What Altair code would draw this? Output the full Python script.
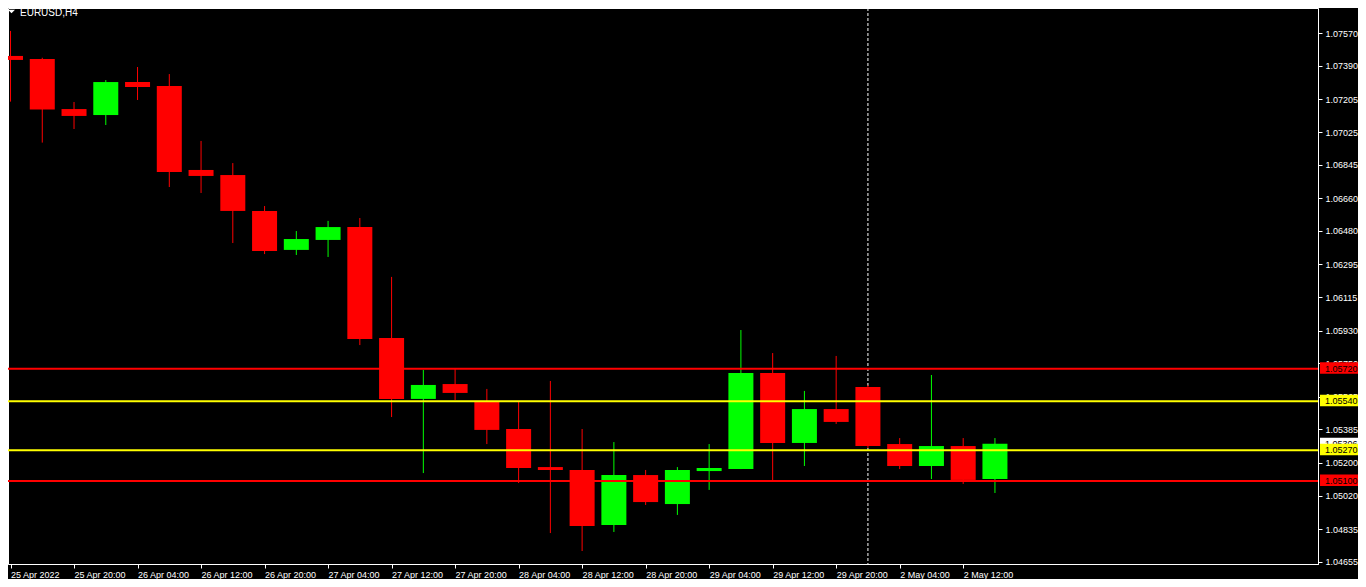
import altair as alt
import pandas as pd

# ---- data (EURUSD, H4) ----
bar_index = list(range(32))
opens = [1.07445, 1.07428, 1.07152, 1.07119, 1.07301, 1.07279, 1.06816, 1.06788,
         1.06590, 1.06375, 1.06430, 1.06501, 1.05889, 1.05553, 1.05635, 1.05542,
         1.05387, 1.05177, 1.05161, 1.04857, 1.05133, 1.04973, 1.05155, 1.05166,
         1.05696, 1.05310, 1.05497, 1.05619, 1.05304, 1.05183, 1.05293, 1.05111]
highs = [1.07583, 1.07435, 1.07191, 1.07312, 1.07384, 1.07345, 1.06976, 1.06854,
         1.06617, 1.06479, 1.06535, 1.06551, 1.06226, 1.05713, 1.05718, 1.05608,
         1.05536, 1.05652, 1.05387, 1.05315, 1.05161, 1.05177, 1.05304, 1.05933,
         1.05806, 1.05597, 1.05790, 1.05630, 1.05337, 1.05685, 1.05337, 1.05337]
lows = [1.07193, 1.06967, 1.07042, 1.07064, 1.07202, 1.06722, 1.06689, 1.06413,
        1.06352, 1.06347, 1.06336, 1.05850, 1.05453, 1.05144, 1.05547, 1.05304,
        1.05089, 1.04813, 1.04714, 1.04819, 1.04968, 1.04913, 1.05051, 1.05166,
        1.05095, 1.05183, 1.05415, 1.05282, 1.05166, 1.05111, 1.05084, 1.05034]
closes = [1.07423, 1.07149, 1.07114, 1.07301, 1.07274, 1.06805, 1.06783, 1.06590,
          1.06369, 1.06435, 1.06501, 1.05884, 1.05553, 1.05630, 1.05586, 1.05382,
          1.05172, 1.05161, 1.04852, 1.05133, 1.04984, 1.05161, 1.05172, 1.05696,
          1.05310, 1.05497, 1.05426, 1.05293, 1.05183, 1.05293, 1.05106, 1.05306]

level_prices = [1.05720, 1.05540, 1.05270, 1.05100]
level_colors = ["#ff0000", "#ffff00", "#ffff00", "#ff0000"]
level_texts = ["1.05720", "1.05540", "1.05270", "1.05100"]
bid_price = [1.05306]
bid_text = ["1.05306"]

x_tick_index = [0, 2, 4, 6, 8, 10, 12, 14, 16, 18, 20, 22, 24, 26, 28, 30]
x_tick_labels = ["25 Apr 2022", "25 Apr 20:00", "26 Apr 04:00", "26 Apr 12:00",
                 "26 Apr 20:00", "27 Apr 04:00", "27 Apr 12:00", "27 Apr 20:00",
                 "28 Apr 04:00", "28 Apr 12:00", "28 Apr 20:00", "29 Apr 04:00",
                 "29 Apr 12:00", "29 Apr 20:00", "2 May 04:00", "2 May 12:00"]
y_tick_values = [1.07570, 1.07390, 1.07205, 1.07025, 1.06845, 1.06660, 1.06480,
                 1.06295, 1.06115, 1.05930, 1.05750, 1.05565, 1.05385, 1.05200,
                 1.05020, 1.04835, 1.04655]
separator_index = [27]
symbol_title = ["EURUSD,H4"]

# ---- tables ----
df = pd.DataFrame({"i": bar_index, "o": opens, "h": highs, "l": lows, "c": closes})
df["dir"] = ["up" if c >= o else "down" for o, c in zip(opens, closes)]
levels = pd.DataFrame({"p": level_prices, "col": level_colors, "t": level_texts})
bid = pd.DataFrame({"p": bid_price, "t": bid_text})
sep = pd.DataFrame({"s": separator_index})
ttl = pd.DataFrame({"t": symbol_title})

label_array = [""] * 31
for k, lab in zip(x_tick_index, x_tick_labels):
    label_array[k] = lab
label_expr = "[" + ",".join("'" + s + "'" for s in label_array) + "][datum.value]"

FONT = "Liberation Sans"
W, H = 1310, 556
x_scale = alt.Scale(domain=[0.078125, 41.015625], nice=False, zero=False)
y_scale = alt.Scale(domain=[1.046423, 1.077095], nice=False, zero=False)
color_scale = alt.Scale(domain=["up", "down"], range=["#00ff00", "#ff0000"])

x_axis = alt.Axis(values=x_tick_index, labelExpr=label_expr, title=None, grid=False,
                  tickSize=4, labelPadding=2, labelAlign="left", labelBaseline="top",
                  labelColor="#ffffff", tickColor="#ffffff",
                  domainColor="#ffffff", labelFont=FONT, labelFontSize=9,
                  labelOverlap=False, labelFlush=False, labelBound=False, zindex=0)
y_axis = alt.Axis(orient="right", values=y_tick_values, format=".5f", title=None,
                  grid=False, tickSize=4, labelPadding=3, labelAlign="left",
                  labelBaseline="middle", labelColor="#ffffff", tickColor="#ffffff",
                  domainColor="#ffffff", labelFont=FONT, labelFontSize=9,
                  labelOverlap=False, labelFlush=False, labelBound=False, zindex=0)

def X(field):
    return alt.X(field, scale=x_scale, axis=x_axis)

def Y(field):
    return alt.Y(field, scale=y_scale, axis=y_axis)

base = alt.Chart(df)

separator = alt.Chart(sep).mark_rule(color="#ffffff", strokeWidth=1, strokeDash=[3, 2]).encode(
    x=X("s:Q")
)

wicks = base.mark_rule(strokeWidth=1, clip=True).encode(
    x=X("i:Q"), y=Y("l:Q"), y2="h:Q",
    color=alt.Color("dir:N", scale=color_scale, legend=None),
)

bodies = base.mark_bar(size=25, clip=True).encode(
    x=X("i:Q"), y=Y("o:Q"), y2="c:Q",
    color=alt.Color("dir:N", scale=color_scale, legend=None),
)

level_lines = alt.Chart(levels).mark_rule(strokeWidth=2, clip=True).encode(
    y=Y("p:Q"),
    color=alt.Color("col:N", scale=None),
)

bid_box = alt.Chart(bid).mark_rect(fill="#ffffff", yOffset=-6, y2Offset=5).encode(
    x=alt.value(1312), x2=alt.value(1353), y=Y("p:Q"), y2="p:Q",
)
bid_label = alt.Chart(bid).mark_text(align="left", baseline="middle", font=FONT,
                                     fontSize=9, color="#000000").encode(
    x=alt.value(1317), y=Y("p:Q"), text="t:N"
)

level_boxes = alt.Chart(levels).mark_rect(yOffset=-6.5, y2Offset=5).encode(
    x=alt.value(1312), x2=alt.value(1353), y=Y("p:Q"), y2="p:Q",
    fill=alt.Fill("col:N", scale=None),
)
level_labels = alt.Chart(levels).mark_text(align="left", baseline="middle", font=FONT,
                                           fontSize=9, color="#000000").encode(
    x=alt.value(1317), y=Y("p:Q"), text="t:N"
)

title_mark = alt.Chart(ttl).mark_point(
    shape="M-1,-0.5L1,-0.5L0,0.5Z", filled=True, color="#ffffff", size=49, opacity=1
).encode(x=alt.value(3.5), y=alt.value(3.5))
title_text = alt.Chart(ttl).mark_text(align="left", baseline="alphabetic", font=FONT,
                                      fontSize=10, color="#ffffff").encode(
    x=alt.value(12), y=alt.value(8), text="t:N"
)

chart = alt.layer(
    separator, wicks, bodies, level_lines, bid_box, bid_label,
    level_boxes, level_labels, title_mark, title_text
).properties(
    width=W, height=H,
    autosize=alt.AutoSizeParams(type="none"),
    padding={"left": 0, "top": 0, "right": 40, "bottom": 15},
    background="#000000",
).configure_view(stroke="#ffffff", strokeWidth=1, fill="#000000")

chart.save("out.html", embed_options={"renderer": "svg", "actions": False})
